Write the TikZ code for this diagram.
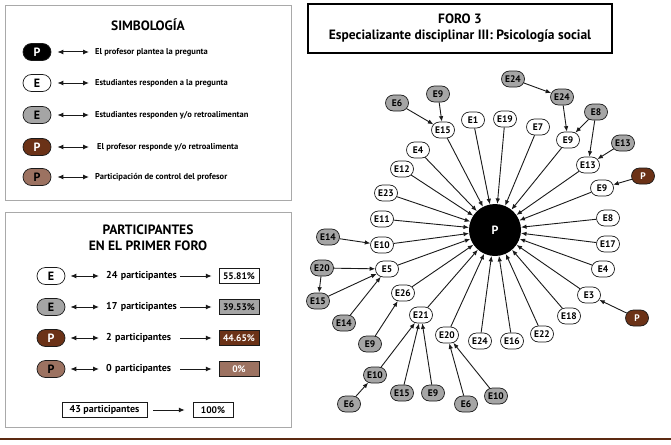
\documentclass[tikz,border=0pt]{standalone}
\usepackage{fontspec}
\setmainfont{PT Sans}
\usetikzlibrary{arrows.meta,shapes.misc}
\definecolor{vdarkgray}{HTML}{1a1a1a}
\definecolor{vgray}{HTML}{a5a5a5}
\definecolor{vframe}{HTML}{a9a9a9}
\definecolor{vbrown}{HTML}{6b3217}
\definecolor{vlightbrown}{HTML}{9c7261}
\definecolor{vline}{HTML}{5c2a12}

\tikzset{
	stud/.style={rounded rectangle, draw=vdarkgray, fill=white, line width=0.7pt, minimum width=27pt, minimum height=16pt, inner xsep=2pt, inner ysep=0pt, font=\fontsize{9.5}{10}\selectfont\bfseries},
	feed/.style={stud, fill=vgray},
	prof/.style={stud, fill=vbrown, text=white},
	spoke/.style={vdarkgray, line width=0.9pt, -{Latex[length=5.5pt,width=4.5pt]}},
	legendoval/.style={rounded rectangle, draw=vdarkgray, line width=0.7pt, minimum width=28pt, minimum height=17pt, inner sep=0pt, font=\fontsize{12}{12}\selectfont\bfseries},
	legendtext/.style={anchor=west, inner sep=2pt, font=\fontsize{8.5}{9}\selectfont\bfseries},
	both/.style={vdarkgray, line width=1pt, {Latex[length=6pt,width=5pt]}-{Latex[length=6pt,width=5pt]}},
	single/.style={vdarkgray, line width=1pt, -{Latex[length=6pt,width=5pt]}},
	pct/.style={rectangle, draw=vdarkgray, line width=0.5pt, minimum width=40pt, minimum height=15pt, inner sep=0pt, font=\fontsize{9.5}{10}\selectfont\bfseries}
}

\begin{document}
\begin{tikzpicture}[x=1pt, y=-1pt]
		\useasboundingbox[fill=white] (0,0) rectangle (671,444);
		\draw[color=vline, line width=1.5pt] (0,439) -- (671,439);

		% frames
		\draw[color=vframe, line width=0.8pt] (5,5) rectangle (291,200);
		\draw[color=vframe, line width=0.8pt] (5,212) rectangle (291,427);
		\draw[color=black, line width=1.2pt] (308,4) rectangle (612,53);
		\node[font=\fontsize{13.5}{16}\selectfont\bfseries, align=center] (title) at (460,28) {FORO 3\\Especializante disciplinar III: Psicología social};

		% simbologia
		\node[font=\fontsize{13.5}{13.5}\selectfont\bfseries] (simb) at (148,25) {SIMBOLOGÍA};
		\node[legendoval, fill=black, text=white] (K1) at (37,52) {P};
		\node[legendoval, fill=white] (K2) at (37,83) {E};
		\node[legendoval, fill=vgray] (K3) at (37,115) {E};
		\node[legendoval, fill=vbrown, text=white] (K4) at (37,147) {P};
		\node[legendoval, fill=vlightbrown] (K5) at (37,177) {P};
		\node[legendtext] (T1) at (93,52) {El profesor plantea la pregunta};
		\node[legendtext] (T2) at (93,83) {Estudiantes responden a la pregunta};
		\node[legendtext] (T3) at (93,115) {Estudiantes responden y/o retroalimentan};
		\node[legendtext] (T4) at (95,147) {El profesor responde y/o retroalimenta};
		\node[legendtext] (T5) at (93,177) {Participación de control del profesor};
		\draw[both] ([xshift=6pt]K1.east) -- ([xshift=-4pt]T1.west);
		\draw[both] ([xshift=6pt]K2.east) -- ([xshift=-4pt]T2.west);
		\draw[both] ([xshift=6pt]K3.east) -- ([xshift=-4pt]T3.west);
		\draw[both] ([xshift=6pt]K4.east) -- ([xshift=-6pt]T4.west);
		\draw[both] ([xshift=6pt]K5.east) -- ([xshift=-4pt]T5.west);

		% participantes
		\node[font=\fontsize{13.5}{16}\selectfont\bfseries, align=center] (part) at (148,238) {PARTICIPANTES\\EN EL PRIMER FORO};
		\node[legendoval, fill=white] (O1) at (51,276) {E};
		\node[legendoval, fill=vgray] (O2) at (51,307) {E};
		\node[legendoval, fill=vbrown, text=white] (O3) at (51,338) {P};
		\node[legendoval, fill=vlightbrown] (O4) at (51,369) {P};
		\node[legendtext, text width=72pt, font=\fontsize{10}{10}\selectfont\bfseries] (C1) at (104,276) {24 participantes};
		\node[legendtext, text width=72pt, font=\fontsize{10}{10}\selectfont\bfseries] (C2) at (104,307) {17 participantes};
		\node[legendtext, text width=72pt, font=\fontsize{10}{10}\selectfont\bfseries] (C3) at (104,338) {2 participantes};
		\node[legendtext, text width=72pt, font=\fontsize{10}{10}\selectfont\bfseries] (C4) at (104,369) {0 participantes};
		\node[pct, fill=white] (R1) at (239,276) {55.81\%};
		\node[pct, fill=vgray] (R2) at (239,307) {39.53\%};
		\node[pct, fill=vbrown, text=white] (R3) at (239,338) {44.65\%};
		\node[pct, fill=vlightbrown, text=white] (R4) at (239,369) {0\%};
		\draw[both] ([xshift=5pt]O1.east) -- ([xshift=-5pt]C1.west);
		\draw[both] ([xshift=5pt]O2.east) -- ([xshift=-5pt]C2.west);
		\draw[both] ([xshift=5pt]O3.east) -- ([xshift=-5pt]C3.west);
		\draw[both] ([xshift=5pt]O4.east) -- ([xshift=-5pt]C4.west);
		\draw[single] (C1.east) -- ([xshift=-7pt]R1.west);
		\draw[single] (C2.east) -- ([xshift=-7pt]R2.west);
		\draw[single] (C3.east) -- ([xshift=-7pt]R3.west);
		\draw[single] (C4.east) -- ([xshift=-7pt]R4.west);
		\node[pct, minimum width=85pt, font=\fontsize{10}{10}\selectfont\bfseries] (total) at (104.5,410) {43 participantes};
		\node[pct] (full) at (213,410) {100\%};
		\draw[single] ([xshift=6pt]total.east) -- ([xshift=-8pt]full.west);

		% foro
		\node[circle, fill=black, minimum size=52pt, inner sep=0pt, text=white, font=\fontsize{12}{12}\selectfont\bfseries] (P) at (495,230) {P};
		\node[stud] (W1) at (443,130) {E15};
		\node[stud] (W2) at (473,120) {E1};
		\node[stud] (W3) at (505,119) {E19};
		\node[stud] (W4) at (538,127) {E7};
		\node[stud] (W5) at (568,140) {E9};
		\node[stud] (W6) at (588,165) {E13};
		\node[stud] (W7) at (602,188) {E9};
		\node[stud] (W8) at (608,218) {E8};
		\node[stud] (W9) at (608,244) {E17};
		\node[stud] (W10) at (603,269) {E4};
		\node[stud] (W11) at (589,295) {E3};
		\node[stud] (W12) at (569,316) {E18};
		\node[stud] (W13) at (542,334) {E22};
		\node[stud] (W14) at (512,341) {E16};
		\node[stud] (W15) at (480,341) {E24};
		\node[stud] (W16) at (447,335) {E20};
		\node[stud] (W17) at (421,315) {E21};
		\node[stud] (W18) at (403,293) {E26};
		\node[stud] (W19) at (387,269) {E5};
		\node[stud] (W20) at (382,245) {E10};
		\node[stud] (W21) at (382,219) {E11};
		\node[stud] (W22) at (386,193) {E23};
		\node[stud] (W23) at (402,169) {E12};
		\node[stud] (W24) at (418,150) {E4};
		\draw[spoke] (W1) -- (P);
		\draw[spoke] (W2) -- (P);
		\draw[spoke] (W3) -- (P);
		\draw[spoke] (W4) -- (P);
		\draw[spoke] (W5) -- (P);
		\draw[spoke] (W6) -- (P);
		\draw[spoke] (W7) -- (P);
		\draw[spoke] (W8) -- (P);
		\draw[spoke] (W9) -- (P);
		\draw[spoke] (W10) -- (P);
		\draw[spoke] (W11) -- (P);
		\draw[spoke] (W12) -- (P);
		\draw[spoke] (W13) -- (P);
		\draw[spoke] (W14) -- (P);
		\draw[spoke] (W15) -- (P);
		\draw[spoke] (W16) -- (P);
		\draw[spoke] (W17) -- (P);
		\draw[spoke] (W18) -- (P);
		\draw[spoke] (W19) -- (P);
		\draw[spoke] (W20) -- (P);
		\draw[spoke] (W21) -- (P);
		\draw[spoke] (W22) -- (P);
		\draw[spoke] (W23) -- (P);
		\draw[spoke] (W24) -- (P);

		% retroalimentacion
		\node[feed] (G1) at (397,103) {E6};
		\node[feed] (G2) at (438,94) {E9};
		\node[feed] (G3) at (513,79) {E24};
		\node[feed] (G4) at (562,97) {E24};
		\node[feed] (G5) at (596,112) {E8};
		\node[feed] (G6) at (623,143) {E13};
		\node[prof] (B1) at (643,176) {P};
		\node[feed] (G7) at (328,237) {E14};
		\node[feed] (G8) at (322,268) {E20};
		\node[feed] (G9) at (318,301) {E15};
		\node[feed] (G10) at (344,323) {E14};
		\node[feed] (G11) at (370,344) {E9};
		\node[feed] (G12) at (375,375) {E10};
		\node[feed] (G13) at (349,404) {E6};
		\node[feed] (G14) at (402,393) {E15};
		\node[feed] (G15) at (433,393) {E9};
		\node[feed] (G16) at (466,404) {E6};
		\node[feed] (G17) at (496,396) {E10};
		\node[prof] (B2) at (637,318) {P};
		\draw[spoke] (G1) -- (W1);
		\draw[spoke] (G2) -- (W1);
		\draw[spoke] (G3) -- (G4);
		\draw[spoke] (G4) -- (W5);
		\draw[spoke] (G5) -- (W5);
		\draw[spoke] (G5) -- (W6);
		\draw[spoke] (G6) -- (W6);
		\draw[spoke] (B1) -- (W7);
		\draw[spoke] (G7) -- (W20);
		\draw[spoke] (G8) -- (W19);
		\draw[spoke] (G8) -- (G9);
		\draw[spoke] (G9) -- (W19);
		\draw[spoke] (G10) -- (W19);
		\draw[spoke] (G11) -- (W18);
		\draw[spoke] (G12) -- (W17);
		\draw[spoke] (G13) -- (G12);
		\draw[spoke] (G14) -- (W17);
		\draw[spoke] (G15) -- (W17);
		\draw[spoke] (G16) -- (W16);
		\draw[spoke] (G17) -- (W16);
		\draw[spoke] (B2) -- (W11);
	\end{tikzpicture}
\end{document}
